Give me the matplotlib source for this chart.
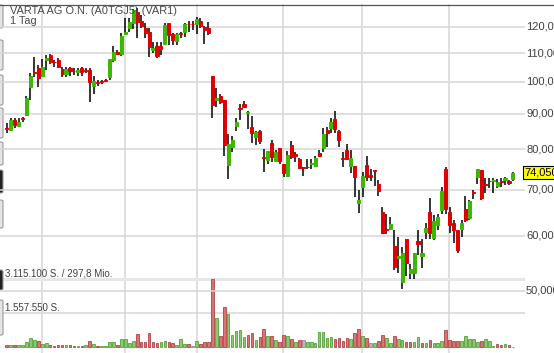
import matplotlib
matplotlib.use("Agg")
import matplotlib.pyplot as plt
from matplotlib.patches import FancyBboxPatch
from matplotlib.transforms import blended_transform_factory

plt.rcParams['font.family'] = ['Liberation Sans', 'DejaVu Sans']

# daily candles, VARTA AG
opens = [85.8, 85.3, 88.2, 86.4, 88.7, 89.6, 98.3, 103.4, 104.9, 102.0,
         107.6, 109.4, 106.9, 107.6, 104.4, 102.7, 104.9, 103.8, 103.5, 104.7,
         103.9, 104.1, 98.8, 100.0, 100.2, 100.5, 101.5, 107.6, 110.5, 109.7,
         117.1, 119.7, 121.6, 126.2, 122.5, 119.5, 118.2, 111.2, 112.7, 112.6,
         113.6, 121.5, 117.1, 114.6, 117.6, 118.1, 121.2, 121.2, 121.2, 122.4,
         119.9, 119.5, 102.0, 94.3, 95.5, 94.3, 75.9, 80.7, 86.4, 91.7,
         93.1, 90.1, 86.1, 83.4, 84.9, 78.0, 77.3, 81.6, 77.0, 80.2,
         76.2, 73.3, 81.1, 78.8, 77.4, 75.3, 75.4, 76.1, 75.8, 79.0,
         80.2, 85.3, 85.7, 88.4, 84.9, 77.7, 79.9, 75.7, 75.7, 66.9,
         70.7, 75.9, 73.4, 74.7, 71.3, 65.0, 61.4, 61.5, 58.0, 55.8,
         51.5, 59.4, 53.1, 53.1, 59.0, 56.1, 60.7, 65.0, 59.6, 62.2,
         65.3, 74.9, 65.0, 62.6, 61.2, 61.4, 65.6, 63.6, 69.4, 73.0,
         74.6, 71.2, 72.1, 72.0, 70.9, 71.9, 72.2, 71.9, 72.4]
highs = [87.2, 88.8, 88.6, 88.8, 89.1, 95.5, 102.9, 108.8, 105.8, 107.9,
         109.4, 109.7, 107.6, 108.2, 105.2, 105.2, 105.2, 104.7, 104.7, 105.2,
         104.9, 104.7, 102.0, 100.7, 100.7, 101.0, 107.9, 112.7, 111.2, 117.5,
         123.5, 123.5, 127.5, 127.8, 124.9, 121.5, 119.5, 114.3, 114.3, 114.3,
         121.5, 121.5, 117.7, 117.8, 118.1, 121.5, 122.4, 122.4, 124.2, 123.5,
         120.4, 121.9, 102.0, 98.0, 96.2, 94.3, 84.1, 83.7, 88.6, 92.9,
         94.0, 90.9, 89.3, 84.9, 85.3, 80.1, 79.5, 82.5, 79.8, 80.2,
         76.3, 79.5, 82.2, 79.3, 77.7, 75.5, 77.5, 77.4, 78.2, 79.8,
         85.7, 86.2, 88.6, 90.9, 85.3, 79.3, 81.4, 79.8, 75.7, 69.9,
         74.3, 78.2, 74.9, 74.7, 72.2, 66.0, 64.6, 63.8, 61.2, 59.8,
         57.9, 59.5, 54.6, 56.8, 61.2, 59.5, 62.6, 68.0, 64.3, 64.6,
         70.7, 75.5, 66.0, 63.3, 61.2, 63.3, 68.5, 67.7, 69.9, 74.9,
         74.6, 72.8, 72.8, 72.8, 72.6, 72.8, 73.0, 72.2, 74.3]
lows = [84.4, 85.0, 85.7, 86.2, 87.5, 89.6, 94.2, 101.8, 98.4, 102.0,
        104.1, 106.1, 105.2, 104.7, 101.8, 101.8, 102.1, 102.3, 102.0, 102.0,
        102.9, 93.7, 96.1, 98.8, 99.4, 99.9, 100.7, 106.8, 109.4, 109.1,
        116.9, 118.1, 119.2, 115.6, 119.5, 115.6, 108.5, 110.0, 108.3, 109.4,
        113.6, 113.0, 113.0, 113.0, 115.6, 116.2, 117.9, 118.8, 117.1, 119.5,
        113.6, 116.9, 88.8, 91.9, 93.1, 78.3, 72.6, 79.2, 85.0, 88.2,
        91.6, 85.6, 81.8, 81.1, 81.3, 74.1, 76.1, 76.8, 76.8, 76.3,
        73.0, 73.0, 77.4, 76.8, 74.9, 73.3, 74.9, 75.0, 75.5, 78.0,
        79.3, 80.6, 84.4, 84.4, 80.6, 75.3, 77.2, 73.9, 68.2, 64.8,
        68.3, 71.9, 71.9, 70.9, 68.5, 60.4, 60.4, 61.2, 53.6, 53.1,
        50.3, 52.5, 52.1, 52.1, 56.3, 54.0, 59.5, 59.5, 59.2, 61.2,
        64.6, 64.5, 60.5, 58.6, 56.7, 59.8, 62.9, 63.3, 67.8, 71.3,
        67.7, 69.1, 70.4, 69.3, 70.4, 70.7, 71.1, 71.1, 71.9]
closes = [85.6, 88.2, 86.7, 87.7, 88.5, 94.7, 102.0, 103.1, 101.3, 105.2,
          108.2, 107.0, 106.7, 105.2, 102.7, 104.4, 103.8, 103.6, 104.1, 103.5,
          103.7, 100.1, 100.3, 99.8, 100.0, 100.3, 107.9, 110.5, 109.6, 116.3,
          118.1, 121.9, 127.1, 122.1, 120.4, 117.5, 112.3, 112.0, 108.9, 111.4,
          120.8, 116.9, 114.9, 117.1, 117.4, 121.1, 121.0, 121.0, 123.2, 120.5,
          118.8, 117.5, 92.7, 94.7, 93.5, 81.1, 81.3, 82.4, 87.7, 91.5,
          92.1, 90.6, 84.3, 84.6, 82.2, 77.8, 79.5, 77.9, 79.3, 77.0,
          73.9, 78.5, 77.9, 78.2, 75.2, 75.2, 75.3, 76.5, 77.8, 78.3,
          84.1, 84.4, 87.6, 85.5, 82.5, 77.5, 77.4, 77.6, 73.0, 67.6,
          73.2, 73.0, 73.0, 74.5, 69.7, 60.5, 61.2, 62.4, 54.2, 56.1,
          56.8, 54.8, 53.7, 56.8, 58.4, 56.8, 61.7, 60.5, 63.0, 63.8,
          69.7, 65.6, 62.2, 61.2, 57.3, 62.7, 63.3, 67.4, 69.2, 74.9,
          68.0, 71.0, 71.9, 72.2, 71.8, 71.7, 72.8, 71.6, 74.05]
# volume in thousand shares
volumes = [100, 90, 90, 90, 90, 228, 411, 350, 274, 167,
           198, 90, 60, 90, 120, 90, 90, 60, 60, 60,
           90, 274, 167, 60, 60, 60, 228, 228, 90, 380,
           380, 198, 304, 610, 243, 243, 640, 228, 198, 243,
           304, 243, 198, 120, 380, 167, 137, 60, 304, 167,
           228, 243, 3115.1, 1327, 518, 1830, 1525, 564, 747, 793,
           457, 564, 640, 350, 450, 823, 533, 502, 319, 243,
           579, 502, 365, 258, 350, 319, 243, 258, 197, 686,
           716, 411, 457, 396, 426, 273, 411, 396, 670, 823,
           502, 426, 197, 197, 304, 563, 441, 197, 518, 365,
           350, 243, 243, 243, 487, 197, 197, 334, 197, 197,
           273, 792, 319, 289, 289, 304, 502, 365, 365, 243,
           304, 365, 273, 60, 166, 90, 136, 90, 30]

price_levels = [50, 60, 70, 80, 90, 100, 110, 120]
month_breaks = [8.9, 29.9, 48.1, 69.9, 89.8, 111.8]
vol_max = 3115.1

W, H = 554, 353
fig = plt.figure(figsize=(W / 100, H / 100), dpi=100)
rect = [0, 0, 525 / W, 349 / H]

ax_vol = fig.add_axes(rect, zorder=0)
ax = fig.add_axes(rect, zorder=1)
ax.patch.set_alpha(0)

n = len(closes)
idx = list(range(n))
xlim = (-1.69, 131.05)

# volume panel (bottom layer)
per_px = vol_max / 68.0
ax_vol.set_xlim(*xlim)
ax_vol.set_ylim(-5.7 * per_px, -5.7 * per_px + 349 * per_px)
for m in month_breaks:
    ax_vol.axvline(m, color='#d6d6d6', lw=1.1, zorder=0)
ax_vol.axhline(vol_max, color='#e6e6e6', lw=2.2, zorder=0)
ax_vol.axhline(vol_max / 2, color='#d6d6d6', lw=1.1, zorder=0)
vfill, vedge = [], []
for i in idx:
    prev = closes[i - 1] if i > 0 else opens[0]
    if closes[i] > prev:
        vfill.append('#8cc870'); vedge.append('#56a03a')
    elif closes[i] < prev:
        vfill.append('#d87474'); vedge.append('#b04444')
    else:
        vfill.append('#b8b8b8'); vedge.append('#8c8c8c')
ax_vol.bar(idx, volumes, width=0.66, color=vfill, edgecolor=vedge,
           linewidth=0.6, zorder=2)
ax_vol.axis('off')
ax_vol.patch.set_visible(True)
ax_vol.set_facecolor('white')

# price panel
ax.set_yscale('log')
ax.set_xlim(*xlim)
ax.set_ylim(40.70, 129.51)
for lv in price_levels:
    ax.axhline(lv, color='#d6d6d6', lw=1.1, zorder=0)

ax.vlines(idx, lows, highs, color='black', lw=1.1, zorder=2)
bottoms = [min(o, c) for o, c in zip(opens, closes)]
heights = [abs(c - o) for o, c in zip(opens, closes)]
bcol = ['#3cb800' if c > o else '#e00000' for o, c in zip(opens, closes)]
ax.bar(idx, heights, bottom=bottoms, width=0.78, color=bcol,
       edgecolor=bcol, linewidth=0.7, zorder=3)

ax.set_xticks([])
ax.set_yticks([])
ax.minorticks_off()
for s in ax.spines.values():
    s.set_visible(False)

tr = blended_transform_factory(ax.transAxes, ax.transData)
for lv in price_levels:
    ax.text(1.002, lv, f"{lv},000", transform=tr, ha='left', va='center',
            fontsize=8, color='#404040', clip_on=False)
last = closes[-1]
ax.text(0.9985, last, f"{last:.3f}".replace('.', ','), transform=tr,
        ha='left', va='center', fontsize=8, color='black', zorder=5,
        bbox=dict(boxstyle='square,pad=0.15', fc='#ffff00', ec='black', lw=0.8))

# texts
fig.text(10.5 / W, 1 - 11.3 / H, "VARTA AG O.N. (A0TGJ5) (VAR1)", fontsize=7.9,
         color='#4a4a4a', va='center', ha='left')
fig.text(10.5 / W, 1 - 21 / H, "1 Tag", fontsize=7.9, color='#4a4a4a',
         va='center', ha='left')
fig.text(5 / W, 1 - 273.5 / H, "3.115.100 S. / 297,8 Mio.", fontsize=7,
         color='#404040', va='center', ha='left')
fig.text(5 / W, 1 - 308 / H, "1.557.550 S.", fontsize=7,
         color='#404040', va='center', ha='left')

# top border line
fig.add_artist(plt.Line2D([0, 1], [1 - 4.5 / H, 1 - 4.5 / H], color='#555555',
                          lw=0.9, transform=fig.transFigure))

# left toolbar buttons
for y0, y1, dark in [(5, 28, False), (40, 70, False), (75, 105, False),
                     (108, 138, False), (142, 165, False), (170, 193, True),
                     (200, 228, False), (270, 290, True), (300, 335, False)]:
    fig.add_artist(FancyBboxPatch((-6 / W, 1 - y1 / H), 9 / W, (y1 - y0) / H,
                                  boxstyle='round,pad=0,rounding_size=0.004',
                                  fc='#222222' if dark else '#e4e4e4',
                                  ec='#9a9a9a', lw=0.8,
                                  transform=fig.transFigure))

fig.savefig("out.png", dpi=100)
